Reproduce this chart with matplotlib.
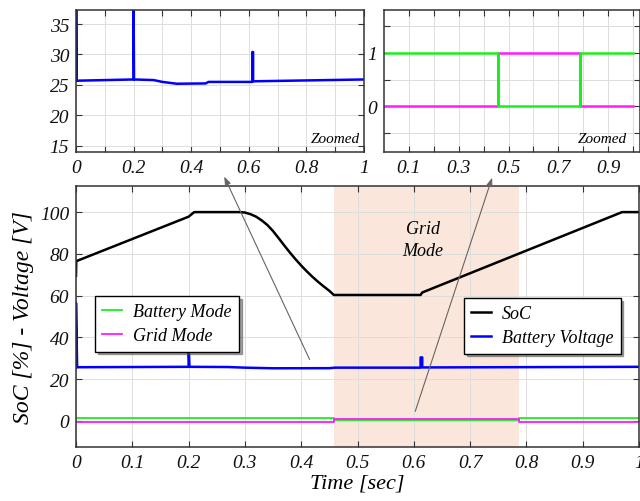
import numpy as np
import matplotlib
matplotlib.use("Agg")
import matplotlib.pyplot as plt
from matplotlib.ticker import FixedLocator, FixedFormatter

plt.rcParams['font.family'] = ['Liberation Serif', 'DejaVu Serif']
plt.rcParams['font.style'] = 'italic'

# -------------------------------
# data
# -------------------------------
# SoC [%]
soc_t = [0.0, 0.0005, 0.2, 0.21, 0.29, 0.30, 0.31, 0.32, 0.33, 0.34, 0.35, 0.36,
         0.37, 0.38, 0.39, 0.40, 0.41, 0.42, 0.43, 0.44, 0.45, 0.458,
         0.612, 0.615, 0.97, 1.0]
soc_v = [69.5, 76.5, 97.8, 100.0, 100.0, 99.8, 99.0, 97.8, 96.0, 93.8, 90.9, 87.5,
         84.0, 80.6, 77.4, 74.4, 71.6, 69.0, 66.6, 64.4, 62.3, 60.3,
         60.3, 61.5, 100.0, 100.0]

# battery voltage [V]
vb_t = [0.0, 0.0, 0.002, 0.2, 0.2, 0.2015, 0.27, 0.30, 0.35, 0.45, 0.46, 0.612,
        0.612, 0.615, 0.615, 1.0]
vb_v = [25.7, 56.5, 25.7, 25.9, 38.0, 25.9, 25.8, 25.5, 25.2, 25.25, 25.5, 25.5,
        30.4, 30.4, 25.6, 25.9]

# operating mode flags (1 = active)
mode_t = [0.0, 0.458, 0.458, 0.786, 0.786, 1.0]
battery_mode = [1, 1, 0, 0, 1, 1]
grid_mode = [0, 0, 1, 1, 0, 0]

grid_start, grid_end = 0.458, 0.786

main_xticks = [0, 0.1, 0.2, 0.3, 0.4, 0.5, 0.6, 0.7, 0.8, 0.9, 1.0]
main_xlabels = ['0', '0.1', '0.2', '0.3', '0.4', '0.5', '0.6', '0.7', '0.8', '0.9', '1']
main_yticks = [0, 20, 40, 60, 80, 100]

c_green = '#19f019'
c_mag = '#ff1aff'
c_blue = '#0000ff'
c_shade = '#fae6da'
c_spine = '#333333'


def style_axes(ax, fs):
    for s in ax.spines.values():
        s.set_color(c_spine)
        s.set_linewidth(1.1)
    ax.tick_params(direction='in', top=True, right=True, length=4, width=0.8,
                   labelsize=fs, colors=c_spine, labelcolor='#111111', pad=5)
    ax.grid(True, color='#dddddd', lw=0.7)
    ax.set_axisbelow(True)


fig = plt.figure(figsize=(6.4, 5.02), dpi=100)

# -------------------------------
# main axes
# -------------------------------
ax = fig.add_axes([76 / 640, 54 / 502, 563 / 640, 261 / 502])
ax.axvspan(grid_start, grid_end, color=c_shade, lw=0, zorder=0)
l_bat, = ax.plot(mode_t, np.array(battery_mode) + 0.3, color=c_green, lw=1.3, label='Battery Mode')
l_grid, = ax.plot(mode_t, np.array(grid_mode) - 0.3, color=c_mag, lw=1.3, label='Grid Mode')
l_soc, = ax.plot(soc_t, soc_v, color='black', lw=1.8, label='SoC')
l_vb, = ax.plot(vb_t, vb_v, color=c_blue, lw=1.8, label='Battery Voltage')
ax.set_xlim(0, 1)
ax.set_ylim(-12.5, 112.5)
ax.set_xticks(main_xticks)
ax.set_xticklabels(main_xlabels)
ax.set_yticks(main_yticks)
style_axes(ax, 14)
ax.set_xlabel('Time [sec]', fontsize=16, labelpad=2)
ax.set_ylabel('SoC [%] - Voltage [V]', fontsize=17, labelpad=4)
ax.text(0.616, 87, 'Grid\nMode', ha='center', va='center', fontsize=13, linespacing=1.4)

leg_kw = dict(fontsize=13, frameon=True, fancybox=False, shadow=True, borderaxespad=0,
              handlelength=1.1, handletextpad=0.6, borderpad=0.4, labelspacing=0.4)
leg1 = ax.legend(handles=[l_bat, l_grid], loc='upper left', bbox_to_anchor=(0.034, 0.579),
                 **leg_kw)
leg1.get_frame().set_edgecolor('black')
ax.add_artist(leg1)
leg2 = ax.legend(handles=[l_soc, l_vb], loc='upper left', bbox_to_anchor=(0.689, 0.571),
                 **leg_kw)
leg2.get_frame().set_edgecolor('black')

# -------------------------------
# zoomed voltage
# -------------------------------
ax1 = fig.add_axes([76 / 640, 349 / 502, 288 / 640, 142 / 502])
ax1.plot(vb_t, vb_v, color=c_blue, lw=1.8)
ax1.set_xlim(0, 1)
ax1.set_ylim(14, 37.3)
ax1.xaxis.set_major_locator(FixedLocator([0, 0.2, 0.4, 0.6, 0.8, 1.0]))
ax1.xaxis.set_major_formatter(FixedFormatter(['0', '0.2', '0.4', '0.6', '0.8', '1']))
ax1.xaxis.set_minor_locator(FixedLocator([0.1, 0.3, 0.5, 0.7, 0.9]))
ax1.set_yticks([15, 20, 25, 30, 35])
style_axes(ax1, 14)
ax1.tick_params(which='minor', direction='in', top=True, length=4, width=0.8, colors=c_spine)
ax1.grid(True, which='minor', color='#dddddd', lw=0.7)
ax1.text(0.985, 0.05, 'Zoomed', transform=ax1.transAxes, ha='right', va='bottom', fontsize=11)

# -------------------------------
# zoomed modes
# -------------------------------
ax2 = fig.add_axes([384 / 640, 349 / 502, 256 / 640, 142 / 502])
ax2.plot(mode_t, grid_mode, color=c_mag, lw=1.8)
ax2.plot(mode_t, battery_mode, color=c_green, lw=1.8)
ax2.set_xlim(0, 1.028)
ax2.set_ylim(-0.85, 1.8)
ax2.xaxis.set_major_locator(FixedLocator([0.1, 0.3, 0.5, 0.7, 0.9]))
ax2.xaxis.set_major_formatter(FixedFormatter(['0.1', '0.3', '0.5', '0.7', '0.9']))
ax2.xaxis.set_minor_locator(FixedLocator([0.2, 0.4, 0.6, 0.8, 1.0]))
ax2.yaxis.set_major_locator(FixedLocator([0, 1]))
ax2.yaxis.set_major_formatter(FixedFormatter(['0', '1']))
ax2.yaxis.set_minor_locator(FixedLocator([-0.5, 0.5, 1.5]))
style_axes(ax2, 14)
ax2.tick_params(which='minor', direction='in', top=True, right=True, length=4, width=0.8,
                colors=c_spine)
ax2.grid(True, which='minor', color='#dddddd', lw=0.7)
ax2.text(0.95, 0.05, 'Zoomed', transform=ax2.transAxes, ha='right', va='bottom', fontsize=11)

# -------------------------------
# pointer arrows
# -------------------------------
arrow_kw = dict(arrowstyle='-|>,head_length=0.5,head_width=0.18', color='#666666', lw=0.8)
ax.annotate('', xy=(223 / 640, 1 - 175 / 502), xycoords='figure fraction',
            xytext=(0.417, 28.2), textcoords='data', arrowprops=arrow_kw)
ax.annotate('', xy=(493 / 640, 1 - 176 / 502), xycoords='figure fraction',
            xytext=(0.601, 3.3), textcoords='data', arrowprops=arrow_kw)

fig.savefig('out.png', dpi=100)
